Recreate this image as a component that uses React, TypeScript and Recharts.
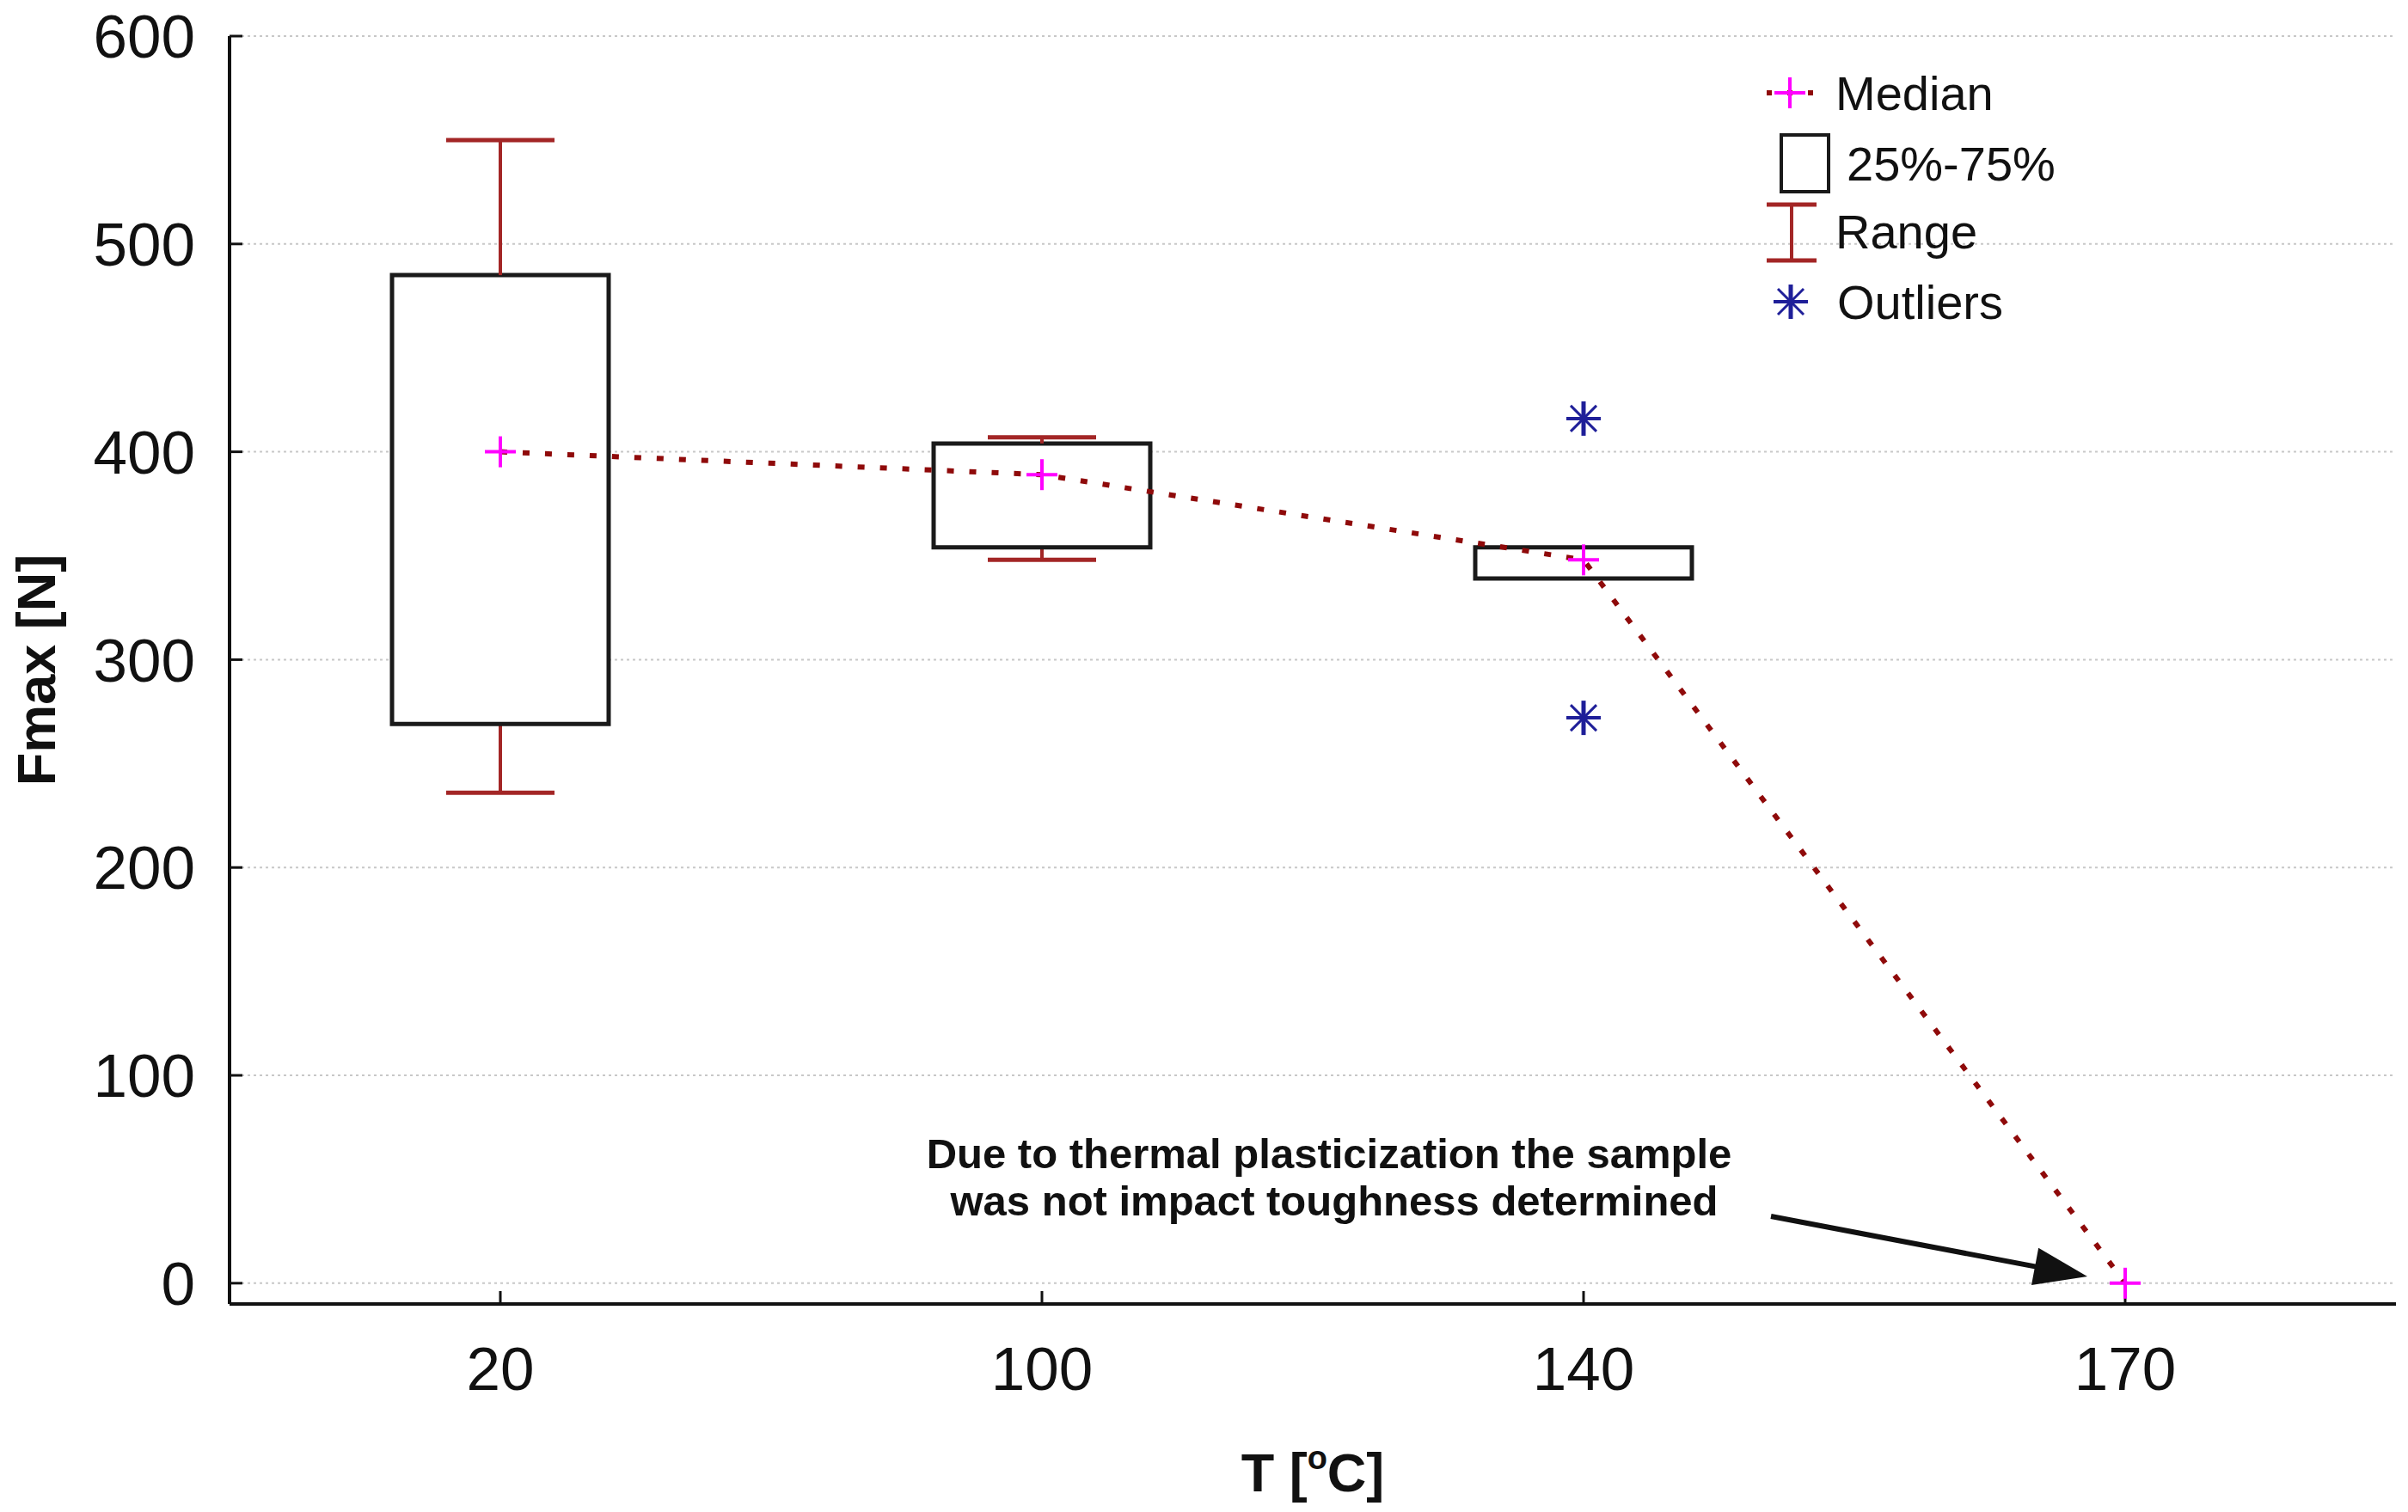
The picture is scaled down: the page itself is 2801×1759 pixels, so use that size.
import React from 'react';
import {
  ComposedChart,
  Bar,
  Line,
  Scatter,
  XAxis,
  YAxis,
  CartesianGrid,
  Legend,
  Customized,
} from 'recharts';

// ---- data ----
const categories = ['20', '100', '140', '170'];
const rangeMin: (number | null)[] = [236, 348, 339, null];
const quart25: (number | null)[] = [269, 354, 339, null];
const medians: number[] = [400, 389, 348, 0];
const quart75: (number | null)[] = [485, 404, 354, null];
const rangeMax: (number | null)[] = [550, 407, 354, null];
const outlierHigh: (number | null)[] = [null, null, 416, null];
const outlierLow: (number | null)[] = [null, null, 272, null];
const yTicks = [0, 100, 200, 300, 400, 500, 600];

const data = categories.map((t, i) => ({
  t,
  base: rangeMin[i],
  lowW: quart25[i] != null && rangeMin[i] != null ? (quart25[i] as number) - (rangeMin[i] as number) : null,
  box: quart75[i] != null && quart25[i] != null ? (quart75[i] as number) - (quart25[i] as number) : null,
  upW: rangeMax[i] != null && quart75[i] != null ? (rangeMax[i] as number) - (quart75[i] as number) : null,
  median: medians[i],
  outHigh: outlierHigh[i],
  outLow: outlierLow[i],
}));

// ---- styles ----
const FONT = '"Liberation Sans", Arial, Helvetica, sans-serif';
const INK = '#111111';
const MEDIAN_LINE = '#8f0a0a';
const WHISKER = '#a32626';
const MAGENTA = '#ff00ff';
const NAVY = '#1f1f99';
const BOX_STROKE = '#1a1a1a';

const W = 2785;
const H = 1743;

// ---- shapes ----
const LowerWhisker = (props: any) => {
  const { x, y, width, height } = props;
  if (!height || !isFinite(height) || height <= 0) return <g />;
  const cx = x + width / 2;
  const half = width / 4;
  const bottom = y + height;
  return (
    <g>
      <line x1={cx} x2={cx} y1={y} y2={bottom} stroke={WHISKER} strokeWidth={4} />
      <line x1={cx - half} x2={cx + half} y1={bottom} y2={bottom} stroke={WHISKER} strokeWidth={5} />
    </g>
  );
};

const UpperWhisker = (props: any) => {
  const { x, y, width, height } = props;
  if (!height || !isFinite(height) || height <= 0) return <g />;
  const cx = x + width / 2;
  const half = width / 4;
  return (
    <g>
      <line x1={cx} x2={cx} y1={y} y2={y + height} stroke={WHISKER} strokeWidth={4} />
      <line x1={cx - half} x2={cx + half} y1={y} y2={y} stroke={WHISKER} strokeWidth={5} />
    </g>
  );
};

const CrossMark = ({ cx, cy, size = 18 }: { cx: number; cy: number; size?: number }) => (
  <g>
    <line x1={cx - size} x2={cx + size} y1={cy} y2={cy} stroke={MAGENTA} strokeWidth={4} />
    <line x1={cx} x2={cx} y1={cy - size} y2={cy + size} stroke={MAGENTA} strokeWidth={4} />
  </g>
);

const AsteriskMark = ({ cx, cy, size = 20 }: { cx: number; cy: number; size?: number }) => {
  const d = size * 0.75;
  return (
    <g>
      <line x1={cx} x2={cx} y1={cy - size} y2={cy + size} stroke={NAVY} strokeWidth={5} />
      <line x1={cx - size} x2={cx + size} y1={cy} y2={cy} stroke={NAVY} strokeWidth={4} />
      <line x1={cx - d} x2={cx + d} y1={cy - d} y2={cy + d} stroke={NAVY} strokeWidth={3} />
      <line x1={cx - d} x2={cx + d} y1={cy + d} y2={cy - d} stroke={NAVY} strokeWidth={3} />
    </g>
  );
};

const renderMedianDot = (props: any) => {
  const { cx, cy, index } = props;
  if (cx == null || cy == null || !isFinite(cx) || !isFinite(cy)) return <g key={`md-${index}`} />;
  return <CrossMark key={`md-${index}`} cx={cx} cy={cy} />;
};

const makeOutlierShape = (key: 'outHigh' | 'outLow') => (props: any) => {
  const { cx, cy, payload } = props;
  if (cx == null || cy == null || !isFinite(cx) || !isFinite(cy)) return <g />;
  if (!payload || payload[key] == null) return <g />;
  return <AsteriskMark cx={cx} cy={cy} />;
};
const outHighShape = makeOutlierShape('outHigh');
const outLowShape = makeOutlierShape('outLow');

const renderYLabel = (props: any) => {
  const vb = props.viewBox || { x: 0, y: 34, width: 259, height: 1475 };
  const cx = vb.x + 56;
  const cy = vb.y + vb.height / 2;
  return (
    <text
      x={cx}
      y={cy}
      transform={`rotate(-90, ${cx}, ${cy})`}
      textAnchor="middle"
      fontSize={63}
      fontWeight="bold"
      fontFamily={FONT}
      fill={INK}
    >
      Fmax [N]
    </text>
  );
};

const renderXLabel = (props: any) => {
  const vb = props.viewBox || { x: 259, y: 1509, width: 2520, height: 234 };
  const cx = vb.x + vb.width / 2;
  const y = vb.y + 218;
  return (
    <text x={cx} y={y} textAnchor="middle" fontSize={63} fontWeight="bold" fontFamily={FONT} fill={INK}>
      T [<tspan fontSize={38} dy={-26}>o</tspan>
      <tspan fontSize={63} dy={26}>C]</tspan>
    </text>
  );
};

const renderLegend = () => (
  <svg width={480} height={340} style={{ display: 'block', overflow: 'visible' }}>
    {/* Median */}
    <line x1={15} x2={73} y1={48} y2={48} stroke={MEDIAN_LINE} strokeWidth={6} strokeDasharray="6 18" />
    <CrossMark cx={42} cy={48} />
    <text x={95} y={68} fontSize={56} fontFamily={FONT} fill={INK}>Median</text>
    {/* 25%-75% */}
    <rect x={32} y={97} width={55} height={66} fill="#fff" stroke={BOX_STROKE} strokeWidth={4} />
    <text x={108} y={150} fontSize={56} fontFamily={FONT} fill={INK}>25%-75%</text>
    {/* Range */}
    <line x1={44} x2={44} y1={178} y2={243} stroke={WHISKER} strokeWidth={4} />
    <line x1={15} x2={73} y1={178} y2={178} stroke={WHISKER} strokeWidth={5} />
    <line x1={15} x2={73} y1={243} y2={243} stroke={WHISKER} strokeWidth={5} />
    <text x={95} y={229} fontSize={56} fontFamily={FONT} fill={INK}>Range</text>
    {/* Outliers */}
    <AsteriskMark cx={43} cy={291} />
    <text x={97} y={311} fontSize={56} fontFamily={FONT} fill={INK}>Outliers</text>
  </svg>
);

const Annotation = () => {
  const tail = { x: 2052, y: 1407 };
  const tip = { x: 2420, y: 1477 };
  const dx = tip.x - tail.x;
  const dy = tip.y - tail.y;
  const len = Math.sqrt(dx * dx + dy * dy);
  const ux = dx / len;
  const uy = dy / len;
  const headLen = 62;
  const headHalf = 22;
  const bx = tip.x - ux * headLen;
  const by = tip.y - uy * headLen;
  const p1 = `${bx - uy * headHalf},${by + ux * headHalf}`;
  const p2 = `${bx + uy * headHalf},${by - ux * headHalf}`;
  return (
    <g>
      <text x={1538} y={1351} textAnchor="middle" fontSize={49} fontWeight="bold" fontFamily={FONT} fill={INK}>
        Due to thermal plasticization the sample
      </text>
      <text x={1544} y={1406} textAnchor="middle" fontSize={49} fontWeight="bold" fontFamily={FONT} fill={INK}>
        was not impact toughness determined
      </text>
      <line x1={tail.x} y1={tail.y} x2={bx + ux * 4} y2={by + uy * 4} stroke={INK} strokeWidth={6} />
      <polygon points={`${tip.x},${tip.y} ${p1} ${p2}`} fill={INK} />
    </g>
  );
};

const tickStyle = { fontSize: 71, fill: INK, fontFamily: FONT };

export default function App() {
  return (
    <div style={{ width: W, height: H, background: '#fff' }}>
      <ComposedChart
        width={W}
        height={H}
        data={data}
        margin={{ top: 34, right: 6, bottom: 0, left: 0 }}
        style={{ fontFamily: FONT }}
      >
        <CartesianGrid vertical={false} stroke="#c8c8c8" strokeDasharray="3 4" strokeWidth={2} />
        <XAxis
          dataKey="t"
          type="category"
          height={234}
          interval={0}
          tickSize={-15}
          tickMargin={65}
          tick={tickStyle}
          axisLine={{ stroke: INK, strokeWidth: 4 }}
          tickLine={{ stroke: INK, strokeWidth: 3 }}
          label={{ content: renderXLabel } as any}
        />
        <XAxis
          xAxisId="top"
          dataKey="t"
          type="category"
          orientation="top"
          height={0}
          interval={0}
          tickSize={-15}
          tick={false}
          axisLine={{ stroke: INK, strokeWidth: 4 }}
          tickLine={{ stroke: INK, strokeWidth: 3 }}
        />
        <YAxis
          type="number"
          domain={[-10, 600]}
          ticks={yTicks}
          allowDataOverflow
          width={259}
          interval={0}
          tickSize={-15}
          tickMargin={55}
          tick={tickStyle}
          axisLine={{ stroke: INK, strokeWidth: 4 }}
          tickLine={{ stroke: INK, strokeWidth: 3 }}
          label={{ content: renderYLabel } as any}
        />
        <YAxis
          yAxisId="right"
          orientation="right"
          type="number"
          domain={[-10, 600]}
          ticks={yTicks}
          allowDataOverflow
          width={0}
          interval={0}
          tickSize={-15}
          tick={false}
          axisLine={{ stroke: INK, strokeWidth: 4 }}
          tickLine={{ stroke: INK, strokeWidth: 3 }}
        />
        <Bar dataKey="base" stackId="box" barSize={252} fill="none" stroke="none" isAnimationActive={false} legendType="none" />
        <Bar dataKey="lowW" stackId="box" barSize={252} shape={LowerWhisker} isAnimationActive={false} legendType="none" />
        <Bar dataKey="box" stackId="box" barSize={252} fill="#ffffff" stroke={BOX_STROKE} strokeWidth={5} isAnimationActive={false} legendType="none" />
        <Bar dataKey="upW" stackId="box" barSize={252} shape={UpperWhisker} isAnimationActive={false} legendType="none" />
        <Line
          xAxisId="top"
          yAxisId="right"
          dataKey="median"
          stroke="none"
          dot={false}
          activeDot={false}
          legendType="none"
          isAnimationActive={false}
        />
        <Line
          type="linear"
          dataKey="median"
          stroke={MEDIAN_LINE}
          strokeWidth={6}
          strokeDasharray="8 18"
          dot={renderMedianDot}
          activeDot={false}
          isAnimationActive={false}
          legendType="none"
        />
        <Scatter dataKey="outHigh" shape={outHighShape} isAnimationActive={false} legendType="none" />
        <Scatter dataKey="outLow" shape={outLowShape} isAnimationActive={false} legendType="none" />
        <Legend
          layout="vertical"
          align="center"
          verticalAlign="middle"
          content={renderLegend}
          wrapperStyle={{ left: 2032, top: 52, width: 480, height: 340 }}
        />
        <Customized component={Annotation} />
      </ComposedChart>
    </div>
  );
}
